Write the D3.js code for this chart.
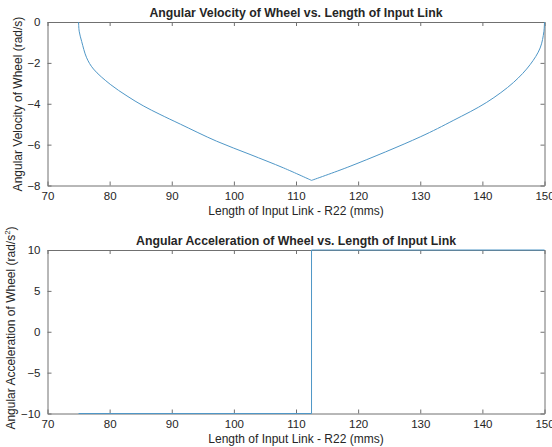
<!DOCTYPE html>
<html>
<head>
<meta charset="utf-8">
<script src="https://cdn.jsdelivr.net/npm/d3@7"></script>
<style>
  body { margin: 0; background: #fff; }
  svg text { font-family: "Liberation Sans", Arial, sans-serif; fill: #262626; }
</style>
</head>
<body>
<div id="vis_container"></div>
<script>
// values
var velLength = [75, 75.1, 75.5, 76.3, 77.4, 80.1, 82.8, 85.4, 88.1, 91.4, 97.2, 102.6, 108, 112.5, 118.7, 130, 135.3, 140.7, 145, 147.7, 149.3, 149.9, 150];
var velOmega  = [0, -0.45, -0.95, -1.75, -2.3, -3.05, -3.62, -4.1, -4.52, -5.0, -5.83, -6.48, -7.14, -7.75, -7.06, -5.62, -4.82, -3.93, -2.96, -2.08, -1.27, -0.47, 0];
var accLength = [75, 112.5, 112.5, 150];
var accAlpha  = [-10, -10, 10, 10];
var xTicks = [70, 80, 90, 100, 110, 120, 130, 140, 150];
var velTicks = [0, -2, -4, -6, -8];
var accTicks = [-10, -5, 0, 5, 10];

var width = 552;
var height = 447;
var lineColor = "#4f97c7";
var axisColor = "#707070";

var svg = d3.select("#vis_container")
    .append("svg")
    .attr("width", width)
    .attr("height", height);

var x = d3.scaleLinear().domain([70, 150]).range([47.5, 544.5]);

function panel(top, bottom, yDomain, yTicks, title) {
    var y = d3.scaleLinear().domain(yDomain).range([bottom, top]);
    var g = svg.append("g");

    // ticks all round, pointing in (box on)
    g.append("g").attr("transform", "translate(0," + bottom + ")")
        .call(d3.axisBottom(x).tickValues(xTicks).tickSizeInner(-4).tickSizeOuter(0).tickPadding(6));
    g.append("g").attr("transform", "translate(0," + top + ")")
        .call(d3.axisTop(x).tickValues(xTicks).tickSizeInner(-4).tickSizeOuter(0).tickFormat(""));
    g.append("g").attr("transform", "translate(" + x.range()[0] + ",0)")
        .call(d3.axisLeft(y).tickValues(yTicks).tickSizeInner(-4).tickSizeOuter(0).tickPadding(7));
    g.append("g").attr("transform", "translate(" + x.range()[1] + ",0)")
        .call(d3.axisRight(y).tickValues(yTicks).tickSizeInner(-4).tickSizeOuter(0).tickFormat(""));

    g.selectAll(".domain, .tick line").attr("stroke", axisColor);
    g.selectAll(".tick text").attr("font-size", 11.5).attr("fill", "#262626")
        .style("font-family", "Liberation Sans, Arial, sans-serif");

    g.append("text")
        .attr("x", (x.range()[0] + x.range()[1]) / 2)
        .attr("y", top - 5)
        .attr("text-anchor", "middle")
        .attr("font-size", 12.3)
        .attr("font-weight", "bold")
        .attr("fill", "#000")
        .text(title);

    g.append("text")
        .attr("x", (x.range()[0] + x.range()[1]) / 2)
        .attr("y", bottom + 29)
        .attr("text-anchor", "middle")
        .attr("font-size", 12)
        .text("Length of Input Link - R22 (mms)");
    return {g: g, y: y};
}

function drawLine(p, pts, curve) {
    var line = d3.line().curve(curve).x(d => x(d[0])).y(d => p.y(d[1]));
    p.g.append("path")
        .attr("d", line(pts))
        .attr("fill", "none")
        .attr("stroke", lineColor)
        .attr("stroke-width", 1);
}

var top1 = panel(22, 185.5, [-8, 0], velTicks, "Angular Velocity of Wheel vs. Length of Input Link");
var velPts = velLength.map((v, i) => [v, velOmega[i]]);
var iMin = d3.minIndex(velOmega);
// two smooth branches meeting at the sharp minimum
drawLine(top1, velPts.slice(0, iMin + 1), d3.curveCatmullRom.alpha(0.5));
drawLine(top1, velPts.slice(iMin), d3.curveCatmullRom.alpha(0.5));

var bot = panel(250, 413.5, [-10, 10], accTicks, "Angular Acceleration of Wheel vs. Length of Input Link");
drawLine(bot, accLength.map((v, i) => [v, accAlpha[i]]), d3.curveLinear);

svg.append("text")
    .attr("transform", "translate(22,104) rotate(-90)")
    .attr("text-anchor", "middle")
    .attr("font-size", 12)
    .text("Angular Velocity of Wheel (rad/s)");

var accLabel = svg.append("text")
    .attr("transform", "translate(15,328) rotate(-90)")
    .attr("text-anchor", "middle")
    .attr("font-size", 12);
accLabel.append("tspan").text("Angular Acceleration of Wheel (rad/s");
accLabel.append("tspan").attr("font-size", 8).attr("dy", -5).text("2");
accLabel.append("tspan").attr("dy", 5).text(")");
</script>
</body>
</html>
